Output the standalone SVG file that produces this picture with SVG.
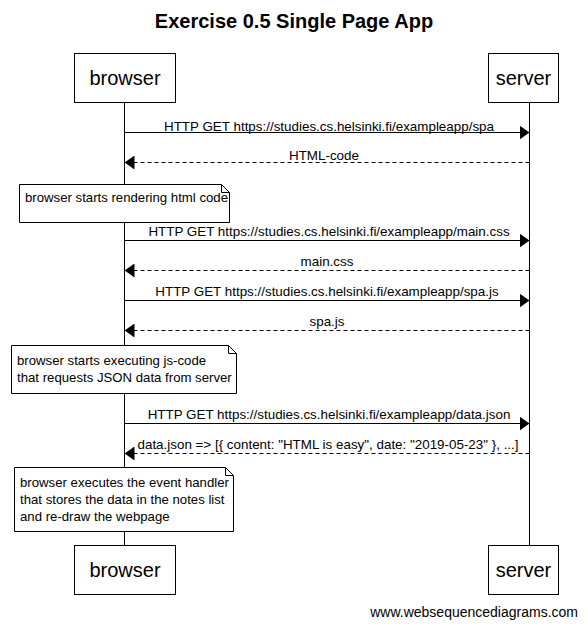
<svg xmlns="http://www.w3.org/2000/svg" width="588" height="629" viewBox="0 0 588 629">
<style>
text{font-family:"Liberation Sans",Arial,sans-serif;fill:#000}
.t{font-size:20px;font-weight:bold;text-anchor:middle}
.p{font-size:20px;text-anchor:middle}
.m{font-size:13.4px;text-anchor:middle}
.n{font-size:13.2px}
.w{font-size:14px;text-anchor:end}
.box{fill:#fff;stroke:#000;stroke-width:1}
.life{stroke:#000;stroke-width:1}
.sol{stroke:#000;stroke-width:1;fill:none}
.dash{stroke:#000;stroke-width:1;fill:none;stroke-dasharray:4,3}
</style>
<defs>
<marker id="ah" viewBox="0 0 10 14" refX="10" refY="7" markerWidth="10" markerHeight="14" markerUnits="userSpaceOnUse" orient="auto">
<path d="M0,0 L10,7 L0,14 Z" fill="#000"/>
</marker>
</defs>
<rect width="588" height="629" fill="#fff"/>
<text class="t" x="294" y="28">Exercise 0.5 Single Page App</text>
<g id="lifelines">
<line class="life" x1="124.5" y1="102" x2="124.5" y2="545"/>
<line class="life" x1="529.5" y1="102" x2="529.5" y2="545"/>
</g>
<g id="connectors">
<line class="sol" x1="124.5" y1="132.5" x2="529.5" y2="132.5" marker-end="url(#ah)"/>
<text class="m" x="329" y="131">HTTP GET https://studies.cs.helsinki.fi/exampleapp/spa</text>
<line class="dash" x1="529.5" y1="162.5" x2="124.5" y2="162.5" marker-end="url(#ah)"/>
<text class="m" x="324" y="160">HTML-code</text>
<line class="sol" x1="124.5" y1="240.5" x2="529.5" y2="240.5" marker-end="url(#ah)"/>
<text class="m" x="329" y="236">HTTP GET https://studies.cs.helsinki.fi/exampleapp/main.css</text>
<line class="dash" x1="529.5" y1="270.5" x2="124.5" y2="270.5" marker-end="url(#ah)"/>
<text class="m" x="327" y="266">main.css</text>
<line class="sol" x1="124.5" y1="300.5" x2="529.5" y2="300.5" marker-end="url(#ah)"/>
<text class="m" x="327" y="296">HTTP GET https://studies.cs.helsinki.fi/exampleapp/spa.js</text>
<line class="dash" x1="529.5" y1="330.5" x2="124.5" y2="330.5" marker-end="url(#ah)"/>
<text class="m" x="327" y="326">spa.js</text>
<line class="sol" x1="124.5" y1="423.5" x2="529.5" y2="423.5" marker-end="url(#ah)"/>
<text class="m" x="329" y="419">HTTP GET https://studies.cs.helsinki.fi/exampleapp/data.json</text>
<line class="dash" x1="529.5" y1="453.5" x2="124.5" y2="453.5" marker-end="url(#ah)"/>
<text class="m" x="328" y="449">data.json =&gt; [{ content: "HTML is easy", date: "2019-05-23" }, ...]</text>
</g>
<g id="browser-top"><rect class="box" x="74.5" y="53.5" width="101" height="49"/><text class="p" x="125" y="85">browser</text></g>
<g id="server-top"><rect class="box" x="488.5" y="53.5" width="70" height="49"/><text class="p" x="523.5" y="85">server</text></g>
<g id="note1"><path class="box" d="M19.5,184.5 H221.5 L229.5,192.5 V222.5 H19.5 Z"/><path class="sol" d="M221.5,184.5 V192.5 H229.5"/><text class="n" x="25" y="202">browser starts rendering html code</text></g>
<g id="note2"><path class="box" d="M11.5,345.5 H228.5 L236.5,353.5 V393.5 H11.5 Z"/><path class="sol" d="M228.5,345.5 V353.5 H236.5"/><text class="n" x="17" y="365">browser starts executing js-code</text><text class="n" x="17" y="382">that requests JSON data from server</text></g>
<g id="note3"><path class="box" d="M14.5,467.5 H225.5 L233.5,475.5 V531.5 H14.5 Z"/><path class="sol" d="M225.5,467.5 V475.5 H233.5"/><text class="n" x="20" y="487">browser executes the event handler</text><text class="n" x="20" y="504">that stores the data in the notes list</text><text class="n" x="20" y="521">and re-draw the webpage</text></g>
<g id="browser-bottom"><rect class="box" x="74.5" y="545.5" width="101" height="49"/><text class="p" x="125" y="577">browser</text></g>
<g id="server-bottom"><rect class="box" x="488.5" y="545.5" width="70" height="49"/><text class="p" x="523.5" y="577">server</text></g>
<text class="w" x="578" y="617">www.websequencediagrams.com</text>
</svg>
